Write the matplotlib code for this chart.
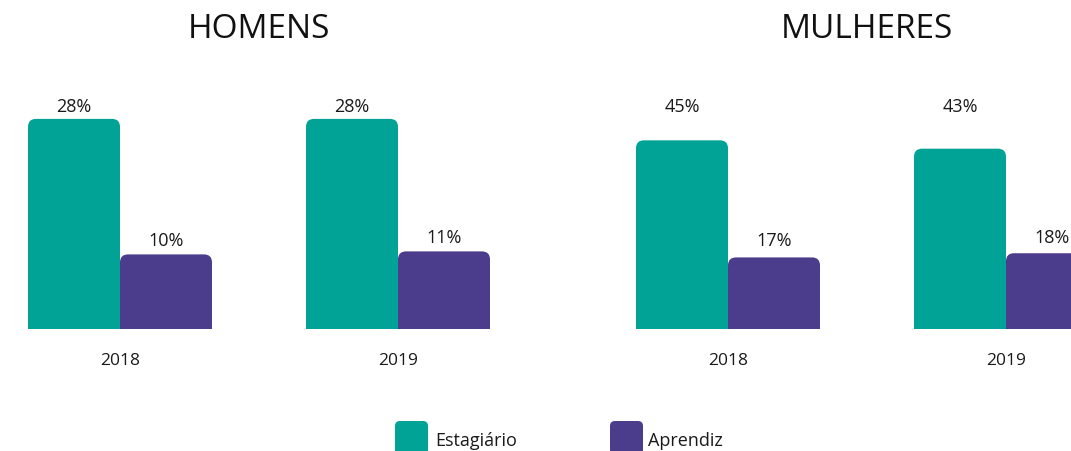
import matplotlib
matplotlib.use("Agg")
import matplotlib.pyplot as plt
from matplotlib.patches import FancyBboxPatch

plt.rcParams['font.family'] = ['Open Sans', 'DejaVu Sans']

# ---- data ----
years = ["2018", "2019"]
series = ["Estagiário", "Aprendiz"]
homens_estagiario = [28.0, 28.0]
homens_aprendiz = [9.9, 10.3]
mulheres_estagiario = [45.0, 43.0]
mulheres_aprendiz = [17.0, 18.0]
homens_labels_est = ["28%", "28%"]
homens_labels_apr = ["10%", "11%"]
mulheres_labels_est = ["45%", "43%"]
mulheres_labels_apr = ["17%", "18%"]
panel_titles = ["HOMENS", "MULHERES"]

# ---- style ----
TEAL = "#00A396"
PURPLE = "#4B3C8C"
W, H = 1071, 452
DPI = 100
fig = plt.figure(figsize=(W / DPI, H / DPI), dpi=DPI)

base_px = 329.5
top_px = 60.0
ax_h_px = base_px - top_px
group_px = 278.0
bar_w = 92.0 / group_px
xlim = (-120.0 / group_px, 398.0 / group_px)
ax_w_px = (xlim[1] - xlim[0]) * group_px
ylim_h = 36.0
ylim_m = 64.45
radius_px = 8.0


def panel(left_px, ylim_top, est, apr, lab_est, lab_apr, label_anchor_est, label_anchor_apr, title):
    ax = fig.add_axes([left_px / W, (H - base_px) / H, ax_w_px / W, ax_h_px / H])
    ax.set_xlim(*xlim)
    ax.set_ylim(0, ylim_top)
    ax.axis("off")
    px_per_y = ax_h_px / ylim_top
    rx = radius_px / group_px
    aspect = group_px / px_per_y
    for i in range(len(years)):
        for val, color, xoff in ((est[i], TEAL, -bar_w / 2), (apr[i], PURPLE, bar_w / 2)):
            x0 = i + xoff - bar_w / 2
            ry = rx * aspect
            p = FancyBboxPatch((x0, -ry * 2), bar_w, val + ry * 2,
                               boxstyle=f"round,pad=0,rounding_size={rx}",
                               mutation_aspect=aspect, facecolor=color,
                               edgecolor="none", clip_on=True)
            ax.add_patch(p)
        ax.annotate(lab_est[i], (i - bar_w / 2, label_anchor_est[i]), xytext=(0, 9.0),
                    textcoords="offset points", ha="center", va="center",
                    fontsize=13, color="#1a1a1a")
        ax.annotate(lab_apr[i], (i + bar_w / 2, label_anchor_apr[i]), xytext=(0, 10.5),
                    textcoords="offset points", ha="center", va="center",
                    fontsize=13, color="#1a1a1a")
        ax.text(i, -31.5 / px_per_y, years[i], ha="center", va="center",
                fontsize=12.5, color="#1a1a1a", clip_on=False)
    fig.text((left_px + ax_w_px / 2) / W, 1 - 30.0 / H, title, ha="center",
             va="center", fontsize=24, color="#111111")
    return ax


panel(0, ylim_h, homens_estagiario, homens_aprendiz,
      homens_labels_est, homens_labels_apr,
      homens_estagiario, homens_aprendiz, panel_titles[0])
ratio = ylim_m / ylim_h
panel(608, ylim_m, mulheres_estagiario, mulheres_aprendiz,
      mulheres_labels_est, mulheres_labels_apr,
      [v * ratio for v in homens_estagiario], [v * ratio for v in homens_aprendiz],
      panel_titles[1])

# ---- legend ----
lax = fig.add_axes([0, 0, 1, 1])
lax.set_xlim(0, W)
lax.set_ylim(H, 0)
lax.axis("off")
for sx, tx, color, name in ((395, 435, TEAL, series[0]), (610, 648, PURPLE, series[1])):
    lax.add_patch(FancyBboxPatch((sx, 422), 33, 34,
                                 boxstyle="round,pad=0,rounding_size=5",
                                 facecolor=color, edgecolor="none"))
    lax.text(tx, 441, name, ha="left", va="center", fontsize=13, color="#1a1a1a")

fig.savefig("out.png", dpi=DPI)
